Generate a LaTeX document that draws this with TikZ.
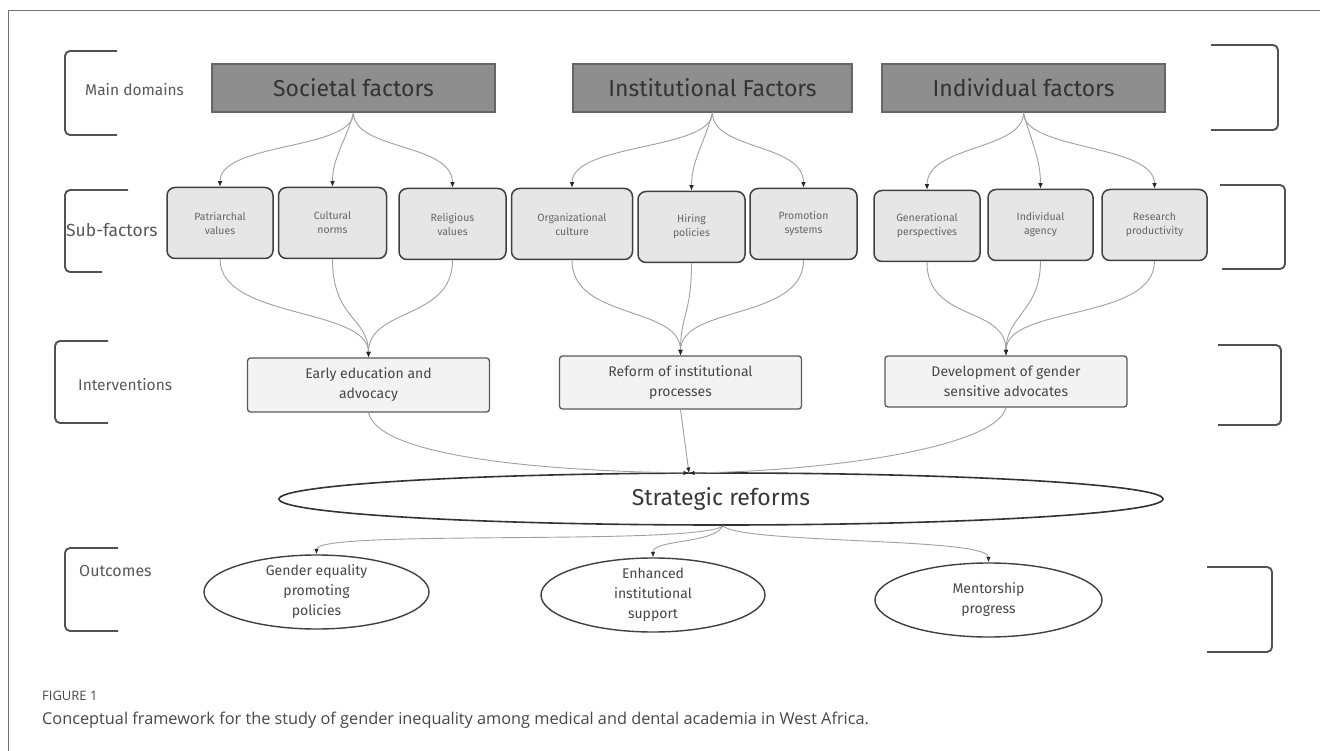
\documentclass[tikz,border=0pt]{standalone}
\usepackage{fontspec}
\setmainfont{Fira Sans}
\newfontfamily\capfont{Open Sans}
\usetikzlibrary{arrows.meta,shapes.geometric,calc}
\definecolor{maingrey}{HTML}{8E8E8E}
\definecolor{subgrey}{HTML}{E6E6E6}
\definecolor{intgrey}{HTML}{F3F3F3}
\definecolor{txt}{HTML}{333333}
\definecolor{linegrey}{HTML}{A0A0A0}
\tikzset{
  mainbox/.style={draw=black!60, line width=1.3pt, fill=maingrey, minimum width=#1, minimum height=48pt, inner sep=0pt, font=\fontsize{23}{25}\selectfont, text=txt},
  subbox/.style={draw=black!75, line width=1.5pt, fill=subgrey, rounded corners=8pt, minimum width=#1, minimum height=71pt, inner sep=2pt, align=center, font=\fontsize{10.5}{14}\selectfont, text=black!60},
  intbox/.style={draw=black!65, line width=1.3pt, fill=intgrey, rounded corners=3pt, minimum width=242pt, minimum height=#1, inner sep=2pt, align=center, font=\fontsize{14}{20}\selectfont, text=black!72},
  outell/.style={ellipse, draw=black!75, line width=1.4pt, fill=white, minimum width=#1, minimum height=74pt, inner sep=0pt},
  outtxt/.style={align=center, inner sep=0pt, font=\fontsize{14}{20}\selectfont, text=black!72},
  lbl/.style={anchor=west, text=black!65, inner sep=0pt},
  brk/.style={draw=black!68, line width=1.9pt, rounded corners=5pt},
  conn/.style={draw=linegrey, line width=0.9pt, -{Latex[length=5.5pt,width=4.5pt,black!85]}},
}
\begin{document}
\begin{tikzpicture}[x=1pt,y=-1pt]
\useasboundingbox (0,0) rectangle (1320,751);
\fill[white] (0,0) rectangle (1320,751);
% frame
\draw[black!55, line width=0.9pt] (1320,10) -- (8,10) -- (8,751);

% left brackets
\draw[brk] (117,51) -- (65,51) -- (65,135) -- (117,135);
\draw[brk] (128,190) -- (65,190) -- (65,272) -- (102,272);
\draw[brk] (108,341) -- (55,341) -- (55,423) -- (108,423);
\draw[brk] (118,548) -- (65,548) -- (65,631) -- (118,631);
% right brackets
\draw[brk] (1211,45) -- (1278,45) -- (1278,130) -- (1211,130);
\draw[brk] (1220,185) -- (1285,185) -- (1285,269) -- (1222,269);
\draw[brk] (1218,345) -- (1281,345) -- (1281,425) -- (1218,425);
\draw[brk] (1207,567) -- (1272,567) -- (1272,652) -- (1207,652);

% row labels
\node[lbl, font=\fontsize{15.5}{17}\selectfont] (lmain) at (85,90) {Main domains};
\node[lbl, font=\fontsize{17.5}{19}\selectfont] (lsub) at (66,230) {Sub-factors};
\node[lbl, font=\fontsize{15.5}{17}\selectfont] (lint) at (78,385) {Interventions};
\node[lbl, font=\fontsize{16}{18}\selectfont] (lout) at (79,571) {Outcomes};

% main domains
\node[mainbox=283pt] (soc) at (353.5,88) {Societal factors};
\node[mainbox=279pt] (ins) at (712.5,88) {Institutional Factors};
\node[mainbox=283pt] (ind) at (1023.5,88) {Individual factors};

% sub-factors
\node[subbox=106pt] (pat) at (220,223) {Patriarchal\\values};
\node[subbox=108pt] (cul) at (332.5,223) {Cultural\\norms};
\node[subbox=107pt] (rel) at (452.5,224) {Religious\\values};
\node[subbox=121pt] (org) at (572,224) {Organizational\\culture};
\node[subbox=107pt] (hir) at (691.5,227) {Hiring\\policies};
\node[subbox=107pt] (pro) at (803.5,224) {Promotion\\systems};
\node[subbox=106pt] (gen) at (927,226) {Generational\\perspectives};
\node[subbox=105pt] (age) at (1040.5,225) {Individual\\agency};
\node[subbox=105pt] (res) at (1154.5,225) {Research\\productivity};

% interventions
\node[intbox=54pt] (ear) at (368.5,385) {Early education and\\advocacy};
\node[intbox=53pt] (ref) at (680.5,382.5) {Reform of institutional\\processes};
\node[intbox=51pt] (dev) at (1006,381.5) {Development of gender\\sensitive advocates};

% strategic reforms
\node[ellipse, draw=black!80, line width=1.6pt, minimum width=884pt, minimum height=52pt, inner sep=0pt, font=\fontsize{23}{25}\selectfont, text=black!78] (str) at (721,499) {Strategic reforms};

% outcomes
\node[outell=225pt] (geq) at (316.5,592) {};
\node[outell=224pt] (enh) at (653,595) {};
\node[outell=227pt] (men) at (988.5,600) {};
\node[outtxt] (geqt) at (316.5,592) {Gender equality\\promoting\\policies};
\node[outtxt] (enht) at (653,595) {Enhanced\\institutional\\support};
\node[outtxt] (ment) at (988.5,600) {Mentorship\\progress};

% connectors: main -> sub
\draw[conn] (soc.south) .. controls ++(0,38) and ($(pat.north)+(0,-45)$) .. (pat.north);
\draw[conn] (soc.south) .. controls ++(-8,30) and ($(cul.north)+(0,-30)$) .. (cul.north);
\draw[conn] (soc.south) .. controls ++(0,38) and ($(rel.north)+(0,-45)$) .. (rel.north);
\draw[conn] (ins.south) .. controls ++(0,38) and ($(org.north)+(0,-45)$) .. (org.north);
\draw[conn] (ins.south) .. controls ++(-8,30) and ($(hir.north)+(0,-30)$) .. (hir.north);
\draw[conn] (ins.south) .. controls ++(0,38) and ($(pro.north)+(0,-45)$) .. (pro.north);
\draw[conn] (ind.south) .. controls ++(0,38) and ($(gen.north)+(0,-45)$) .. (gen.north);
\draw[conn] (ind.south) .. controls ++(8,30) and ($(age.north)+(0,-30)$) .. (age.north);
\draw[conn] (ind.south) .. controls ++(0,38) and ($(res.north)+(0,-45)$) .. (res.north);

% sub -> interventions
\draw[conn] (pat.south) .. controls ++(0,60) and ($(ear.north)+(0,-50)$) .. (ear.north);
\draw[conn] (cul.south) .. controls ++(0,60) and ($(ear.north)+(0,-40)$) .. (ear.north);
\draw[conn] (rel.south) .. controls ++(0,60) and ($(ear.north)+(0,-50)$) .. (ear.north);
\draw[conn] (org.south) .. controls ++(0,60) and ($(ref.north)+(0,-50)$) .. (ref.north);
\draw[conn] (hir.south) .. controls ++(0,50) and ($(ref.north)+(0,-40)$) .. (ref.north);
\draw[conn] (pro.south) .. controls ++(0,60) and ($(ref.north)+(0,-50)$) .. (ref.north);
\draw[conn] (gen.south) .. controls ++(0,60) and ($(dev.north)+(0,-50)$) .. (dev.north);
\draw[conn] (age.south) .. controls ++(0,50) and ($(dev.north)+(0,-40)$) .. (dev.north);
\draw[conn] (res.south) .. controls ++(0,60) and ($(dev.north)+(0,-50)$) .. (dev.north);

% interventions -> strategic
\coordinate (sin) at (689,473);
\draw[conn] (ear.south) .. controls ++(10,45) and ($(sin)+(-140,-2)$) .. (sin);
\draw[conn] (ref.south) -- (sin);
\draw[conn] (dev.south) .. controls ++(-10,40) and ($(sin)+(140,-2)$) .. (sin);

% strategic -> outcomes
\coordinate (sout) at (723,526);
\draw[conn] (sout) .. controls ++(-30,20) and ($(geq.north)+(0,-25)$) .. (geq.north);
\draw[conn] (sout) .. controls ++(-10,18) and ($(enh.north)+(0,-18)$) .. (enh.north);
\draw[conn] (sout) .. controls ++(20,18) and ($(men.north)+(0,-25)$) .. (men.north);

% caption
\node[anchor=west, inner sep=0pt, font=\capfont\fontsize{13}{15}\selectfont, text=black!72] (fig) at (42,696) {FIGURE 1};
\node[anchor=west, inner sep=0pt, font=\capfont\fontsize{16.3}{19}\selectfont, text=black!72] (cap) at (42,720) {Conceptual framework for the study of gender inequality among medical and dental academia in West Africa.};
\end{tikzpicture}
\end{document}
